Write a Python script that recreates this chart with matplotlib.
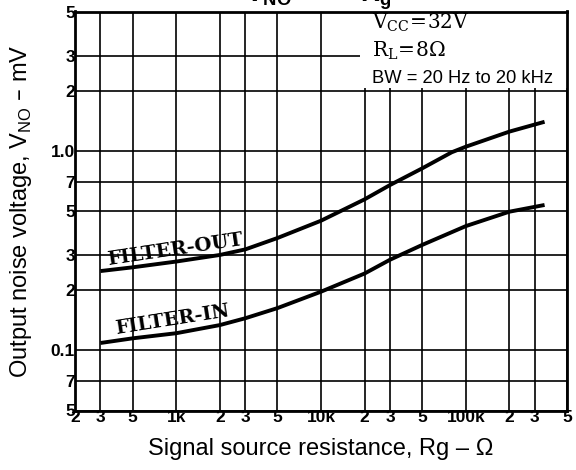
import matplotlib
matplotlib.use("Agg")
import matplotlib.pyplot as plt
from matplotlib.patches import Rectangle

# ---- data ----
rg_out = [300, 500, 1000, 2000, 3000, 5000, 10000, 20000, 30000, 50000, 80000, 100000, 200000, 350000]
vno_out = [0.250, 0.261, 0.279, 0.301, 0.321, 0.366, 0.447, 0.572, 0.675, 0.818, 0.985, 1.05, 1.25, 1.40]

rg_in = [300, 500, 1000, 2000, 3000, 5000, 10000, 20000, 30000, 50000, 100000, 200000, 350000]
vno_in = [0.109, 0.115, 0.122, 0.134, 0.145, 0.163, 0.197, 0.243, 0.285, 0.338, 0.42, 0.496, 0.536]

x_ticks = [200, 300, 500, 1000, 2000, 3000, 5000, 10000, 20000, 30000, 50000, 100000, 200000, 300000, 500000]
x_tick_labels = ["2", "3", "5", "1k", "2", "3", "5", "10k", "2", "3", "5", "100k", "2", "3", "5"]
y_ticks = [0.05, 0.07, 0.1, 0.2, 0.3, 0.5, 0.7, 1.0, 2, 3, 5]
y_tick_labels = ["5", "7", "0.1", "2", "3", "5", "7", "1.0", "2", "3", "5"]

plt.rcParams['font.family'] = ['Liberation Sans', 'DejaVu Sans']

fig = plt.figure(figsize=(5.76, 4.70), dpi=100)
ax = fig.add_axes([75/576, 1-410.5/470, 492/576, 399/470])
ax.set_xscale('log')
ax.set_yscale('log')
ax.set_xlim(200, 500000)
ax.set_ylim(0.05, 5)

ax.set_xticks(x_ticks)
ax.set_xticklabels(x_tick_labels, fontweight='bold', fontsize=12.5)
ax.set_yticks(y_ticks)
ax.set_yticklabels(y_tick_labels, fontweight='bold', fontsize=12.5)
ax.minorticks_off()
ax.tick_params(length=0, pad=0)
ax.set_axisbelow(True)
ax.grid(True, color='black', linewidth=1.2)
for s in ax.spines.values():
    s.set_linewidth(2)

# white annotation box covering grid
ax.add_patch(Rectangle((0.579, 0.808), 0.43, 0.2, transform=ax.transAxes,
                       facecolor='white', edgecolor='none', zorder=1))
ax.text(0.604, 0.956, r"$\mathregular{V_{CC}\!=\!32V}$", transform=ax.transAxes,
        fontfamily='DejaVu Serif', fontsize=14.5, va='baseline', zorder=4)
ax.text(0.604, 0.886, r"$\mathregular{R_{L}\!=\!8\Omega}$", transform=ax.transAxes,
        fontfamily='DejaVu Serif', fontsize=14.5, va='baseline', zorder=4)
ax.text(0.604, 0.821, "BW = 20 Hz to 20 kHz", transform=ax.transAxes,
        fontsize=13.2, va='baseline', zorder=4)

ax.plot(rg_out, vno_out, color='black', linewidth=2.8, zorder=3, solid_capstyle='butt')
ax.plot(rg_in, vno_in, color='black', linewidth=2.8, zorder=3, solid_capstyle='butt')

fig.text(175/576, 1-250/470, "FILTER-OUT", fontfamily='DejaVu Serif', fontsize=14,
         fontweight='bold', rotation=8.5, ha='center', va='center')
fig.text(172/576, 1-320/470, "FILTER-IN", fontfamily='DejaVu Serif', fontsize=14,
         fontweight='bold', rotation=9, ha='center', va='center')

ax.set_xlabel("Signal source resistance, Rg – Ω", fontsize=17, labelpad=9)
ax.set_ylabel(r"Output noise voltage, V$_{\mathregular{NO}}$ – mV", fontsize=17, labelpad=12)

fig.text(245/576, 1-1/470, r"V$_{\mathregular{NO}}$ —", fontsize=19, fontweight='bold',
         va='baseline', ha='left')
fig.text(360/576, 1-1/470, r"R$_{\mathregular{g}}$", fontsize=19, fontweight='bold',
         va='baseline', ha='left')

fig.savefig("out.png", dpi=100)
